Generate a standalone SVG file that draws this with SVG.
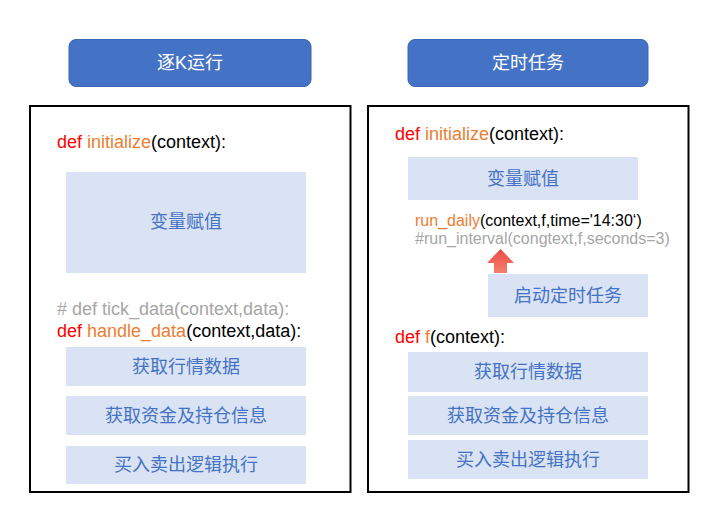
<svg xmlns="http://www.w3.org/2000/svg" width="720" height="514" viewBox="0 0 720 514">
<defs>
<linearGradient id="arrowGrad" x1="0" y1="0" x2="0" y2="1">
<stop offset="0" stop-color="#ef4b45"/>
<stop offset="1" stop-color="#f3806b"/>
</linearGradient>
<style>
text { font-family: "Liberation Sans", "Noto Sans CJK SC", sans-serif; }
.title rect { fill: #4472c4; stroke: #3b65b5; stroke-width: 1; }
.title text { fill: #ffffff; font-size: 18px; text-anchor: middle; }
.frame { fill: #ffffff; stroke: #000000; stroke-width: 2; }
.box rect { fill: #dae3f3; }
.box text { fill: #4472c4; font-size: 18px; text-anchor: middle; }
.code { font-size: 18px; fill: #000000; }
.code2 { font-size: 16px; fill: #000000; }
.kw { fill: #ff0000; }
.fn { fill: #ed7d31; }
.cm { fill: #a6a6a6; }
</style>
</defs>
<rect width="720" height="514" fill="#ffffff"/>

<g id="title-left" class="title">
<rect x="69" y="39.5" width="242" height="47" rx="7"/>
<text x="190" y="69">逐K运行</text>
</g>
<g id="title-right" class="title">
<rect x="408" y="39.5" width="240" height="47" rx="7"/>
<text x="528" y="69">定时任务</text>
</g>

<g id="frame-left">
<rect class="frame" x="30" y="106" width="320.5" height="386"/>
<text class="code" x="57" y="148"><tspan class="kw">def </tspan><tspan class="fn">initialize</tspan>(context):</text>
<text class="code cm" x="57" y="315"># def tick_data(context,data):</text>
<text class="code" x="57" y="337"><tspan class="kw">def </tspan><tspan class="fn">handle_data</tspan>(context,data):</text>
</g>
<g id="left-var" class="box">
<rect x="66" y="172" width="240" height="101"/>
<text x="186" y="228">变量赋值</text>
</g>
<g id="left-quote" class="box">
<rect x="66" y="347" width="240" height="39"/>
<text x="186" y="373">获取行情数据</text>
</g>
<g id="left-fund" class="box">
<rect x="66" y="396" width="240" height="39"/>
<text x="186" y="422">获取资金及持仓信息</text>
</g>
<g id="left-trade" class="box">
<rect x="66" y="446" width="240" height="38"/>
<text x="186" y="471">买入卖出逻辑执行</text>
</g>

<g id="frame-right">
<rect class="frame" x="368" y="106" width="320.5" height="386"/>
<text class="code" x="395" y="140"><tspan class="kw">def </tspan><tspan class="fn">initialize</tspan>(context):</text>
<text class="code2" x="415" y="226"><tspan class="fn">run_daily</tspan>(context,f,time='14:30‘)</text>
<text class="code2 cm" x="415" y="244">#run_interval(congtext,f,seconds=3)</text>
<text class="code" x="395" y="343"><tspan class="kw">def </tspan><tspan class="fn">f</tspan>(context):</text>
</g>
<g id="right-var" class="box">
<rect x="408" y="157" width="230" height="43"/>
<text x="523" y="185">变量赋值</text>
</g>
<g id="right-start" class="box">
<rect x="488" y="274" width="160" height="43"/>
<text x="568" y="302">启动定时任务</text>
</g>
<g id="right-quote" class="box">
<rect x="408" y="352" width="240" height="40"/>
<text x="528" y="378">获取行情数据</text>
</g>
<g id="right-fund" class="box">
<rect x="408" y="396" width="240" height="39"/>
<text x="528" y="422">获取资金及持仓信息</text>
</g>
<g id="right-trade" class="box">
<rect x="408" y="440" width="240" height="39"/>
<text x="528" y="466">买入卖出逻辑执行</text>
</g>

<g id="connectors">
<polygon points="500.5,249 514,263 507,263 507,273 494,273 494,263 487,263" fill="url(#arrowGrad)"/>
</g>
</svg>
